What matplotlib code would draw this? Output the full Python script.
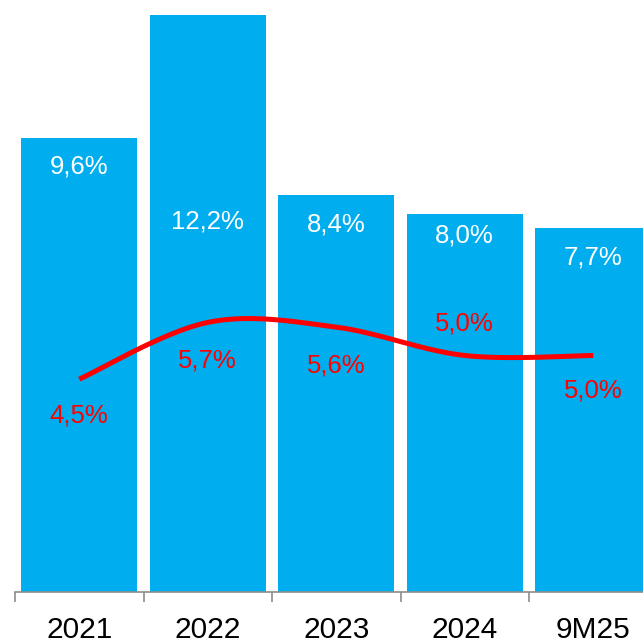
import numpy as np
import matplotlib.pyplot as plt

# Data
categories = ["2021", "2022", "2023", "2024", "9M25"]
bar_values = [9.6, 12.2, 8.4, 8.0, 7.7]
line_values = [4.5, 5.7, 5.6, 5.0, 5.0]

# label offsets (pixels) relative to the mark
bar_label_dy = [-29, -207, -30, -22, -30]
line_label_dy = [-36, -38, -38, 32, -35]

BLUE = "#00AEEF"
RED = "#FF0000"

plt.rcParams['font.family'] = ['Liberation Sans', 'DejaVu Sans']


def smooth(xs, ys, n=40):
    # Catmull-Rom style smoothing through every point
    xs = np.asarray(xs, float)
    ys = np.asarray(ys, float)
    px = np.concatenate([[xs[0]], xs, [xs[-1]]])
    py = np.concatenate([[ys[0]], ys, [ys[-1]]])
    out_x, out_y = [], []
    for i in range(1, len(px) - 2):
        p0 = np.array([px[i], py[i]])
        p3 = np.array([px[i + 1], py[i + 1]])
        c1 = p0 + (np.array([px[i + 1], py[i + 1]]) - np.array([px[i - 1], py[i - 1]])) / 6
        c2 = p3 - (np.array([px[i + 2], py[i + 2]]) - np.array([px[i], py[i]])) / 6
        t = np.linspace(0, 1, n)[:, None]
        pts = ((1 - t) ** 3) * p0 + 3 * ((1 - t) ** 2) * t * c1 + 3 * (1 - t) * t ** 2 * c2 + t ** 3 * p3
        out_x.extend(pts[:, 0])
        out_y.extend(pts[:, 1])
    return np.array(out_x), np.array(out_y)


fig = plt.figure(figsize=(6.43, 6.44), dpi=100)
ax = fig.add_axes([15 / 643, 52 / 644, 642.5 / 643, 592 / 644])

x = np.arange(len(categories))
ax.bar(x, bar_values, width=0.9, color=BLUE, zorder=2)

sx, sy = smooth(x, line_values)
ax.plot(sx, sy, color=RED, lw=3.6, solid_capstyle='butt', zorder=3)

for xi, v, dy in zip(x, bar_values, bar_label_dy):
    ax.annotate(f"{v:.1f}%".replace(".", ","), (xi, v), xytext=(0, dy),
                textcoords='offset pixels', ha='center', va='center',
                color='white', fontsize=18.5, zorder=4)

for xi, v, dy in zip(x, line_values, line_label_dy):
    ax.annotate(f"{v:.1f}%".replace(".", ","), (xi, v), xytext=(0, dy),
                textcoords='offset pixels', ha='center', va='center',
                color=RED, fontsize=18.5, zorder=4)

ax.set_xlim(-0.5, len(categories) - 0.5)
ax.set_ylim(0, 592 / 47.3)

for side in ['left', 'right', 'top']:
    ax.spines[side].set_visible(False)
ax.spines['bottom'].set_color('#8C8C8C')
ax.spines['bottom'].set_linewidth(1.2)
ax.set_yticks([])

ax.set_xticks(x)
ax.set_xticklabels(categories, fontsize=21.5)
ax.tick_params(axis='x', which='major', length=0, pad=17, colors='black')
ax.set_xticks(np.arange(len(categories) + 1) - 0.5, minor=True)
ax.tick_params(axis='x', which='minor', length=7, width=1.2, color='#8C8C8C')

fig.savefig("out.png", dpi=100)
